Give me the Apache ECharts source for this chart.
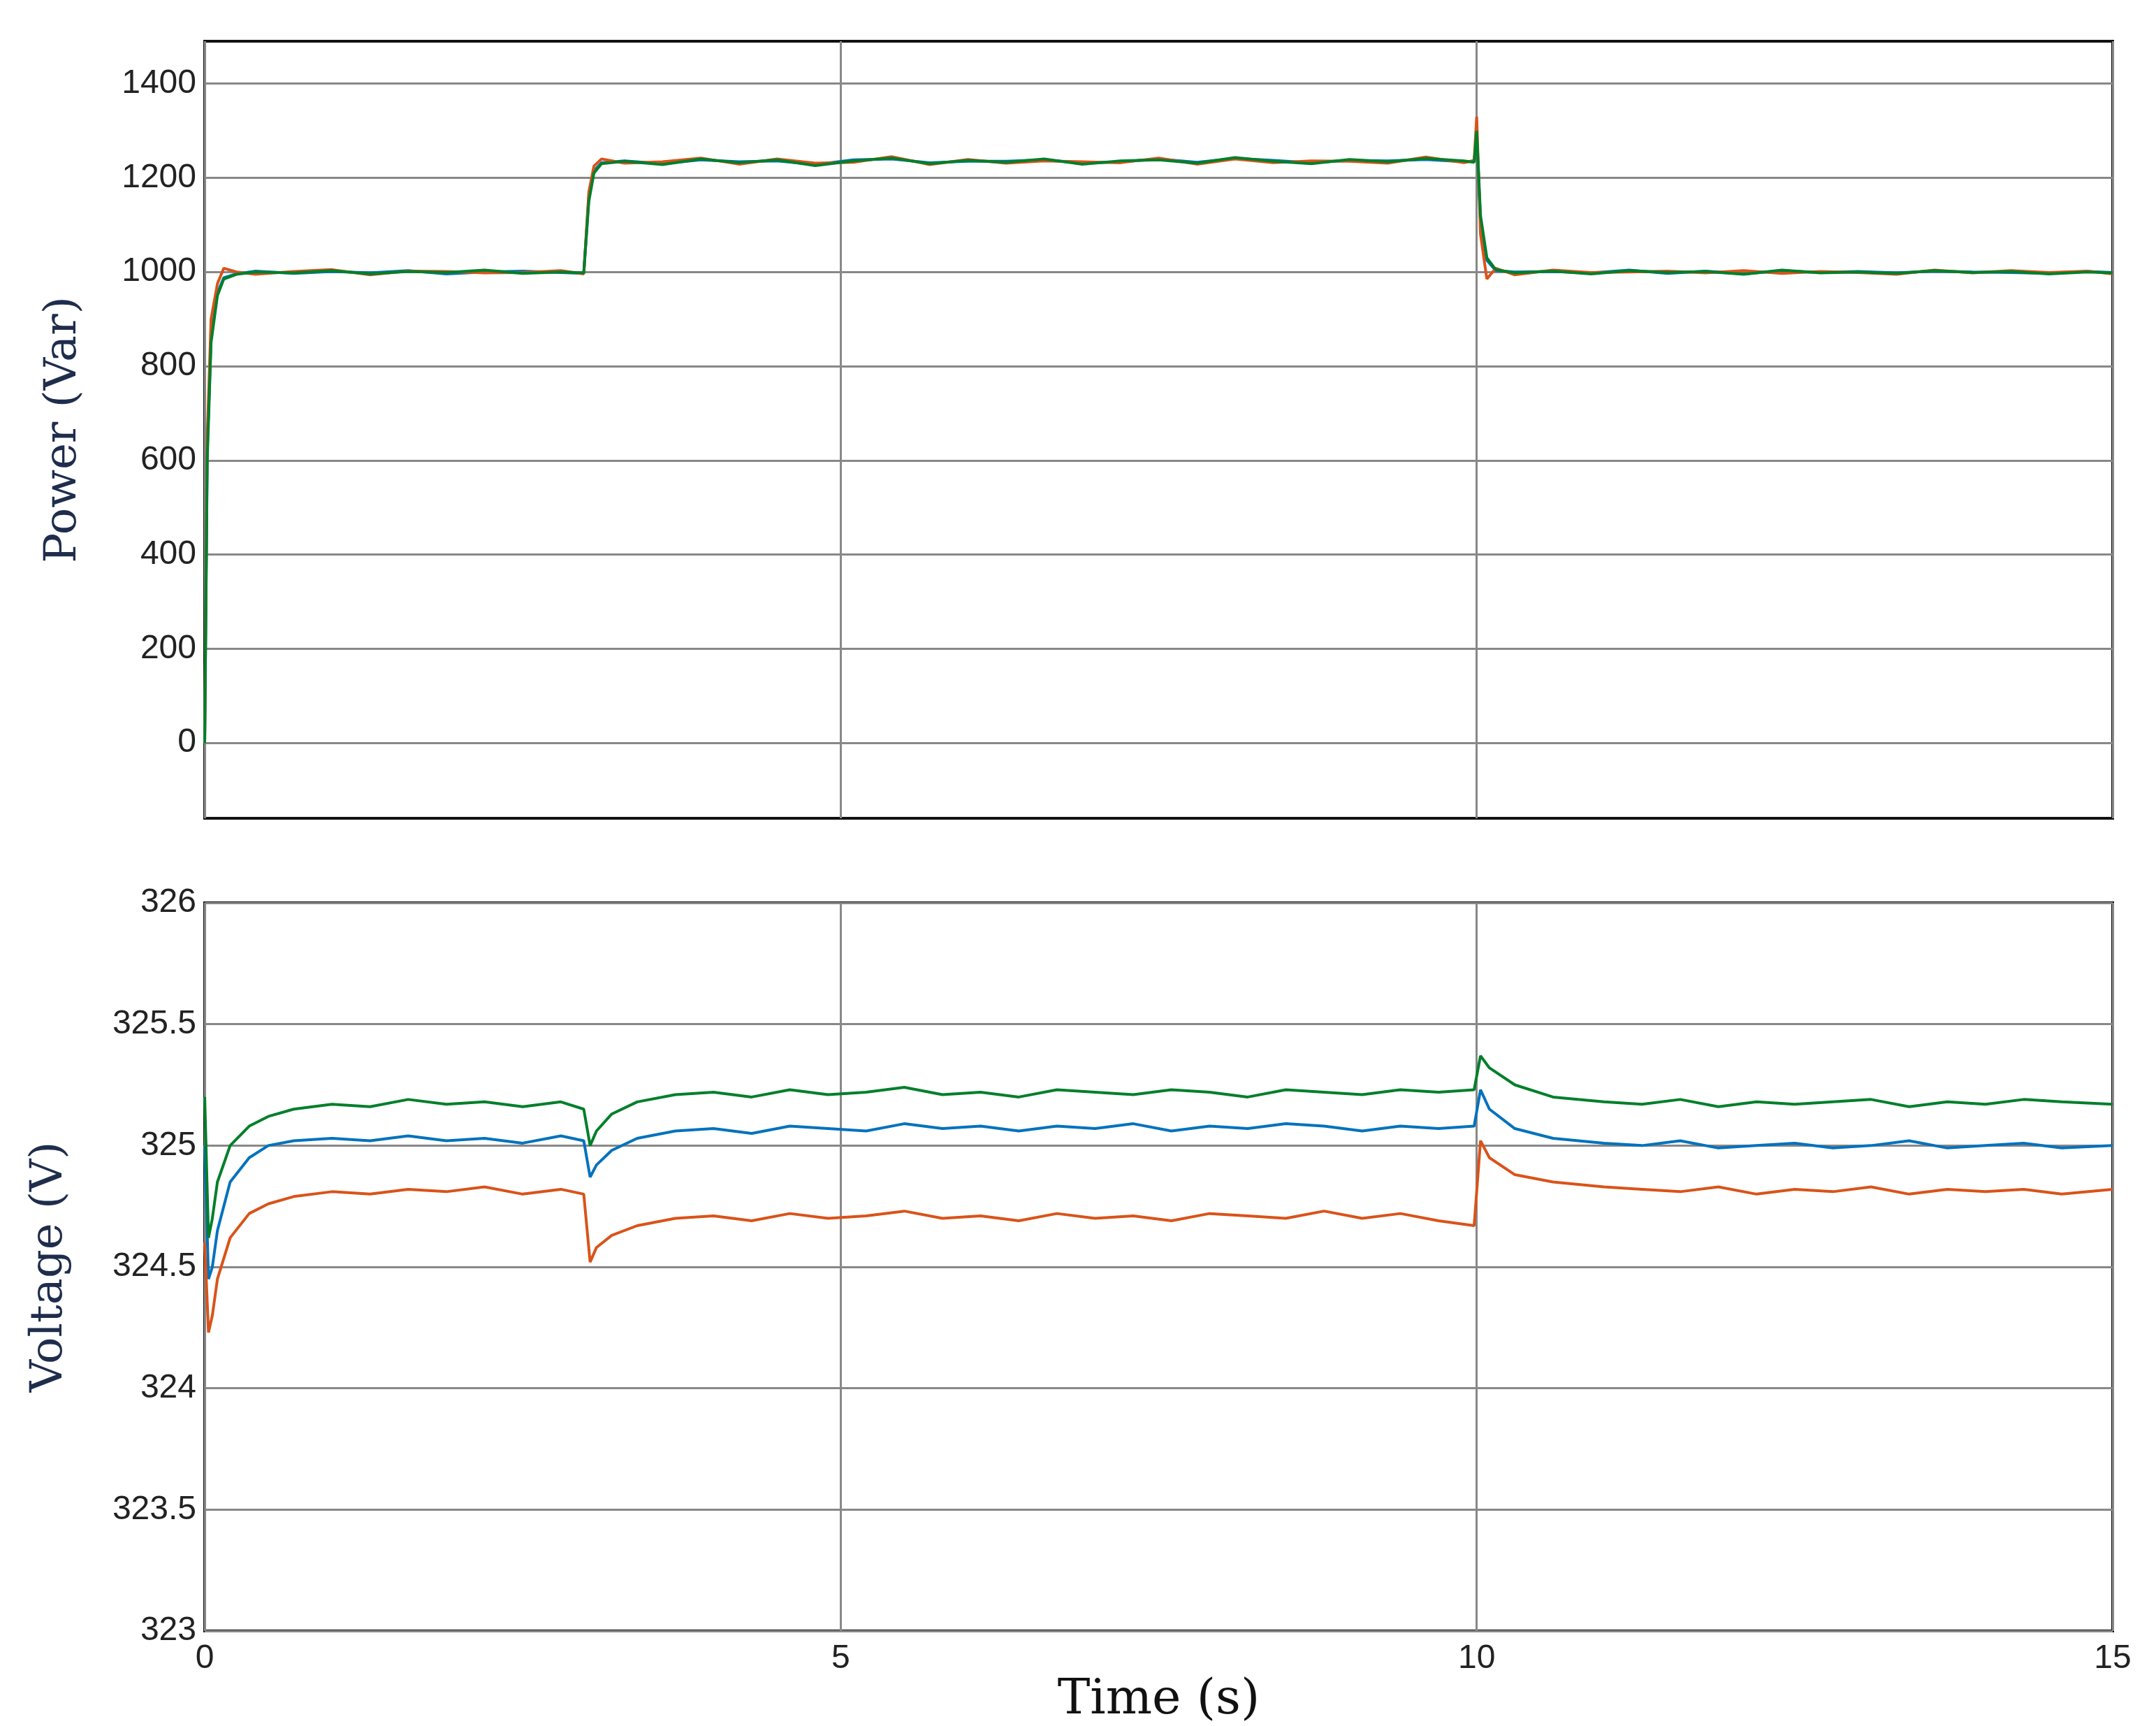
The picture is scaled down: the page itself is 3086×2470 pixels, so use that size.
<!DOCTYPE html>
<html><head><meta charset="utf-8">
<script src="https://cdn.jsdelivr.net/npm/echarts@6/dist/echarts.min.js"></script>
<style>html,body{margin:0;padding:0;background:#fff}#c{width:3086px;height:2470px}</style>
</head><body><div id="c"></div>
<script>
const topT=[0,0.02,0.05,0.1,0.15,0.25,0.4,0.7,1.0,1.3,1.6,1.9,2.2,2.5,2.8,2.98,
3.02,3.06,3.12,3.3,3.6,3.9,4.2,4.5,4.8,5.1,5.4,5.7,6.0,6.3,6.6,6.9,7.2,7.5,7.8,8.1,8.4,8.7,9.0,9.3,9.6,9.9,9.98,
10.0,10.03,10.08,10.15,10.3,10.6,10.9,11.2,11.5,11.8,12.1,12.4,12.7,13.0,13.3,13.6,13.9,14.2,14.5,14.8,15.0];
const powerBlue=[0,620,860,955,988,996,1002,997,1001,998,1003,996,1000,1002,999,997,
1160,1215,1232,1236,1230,1238,1234,1236,1228,1238,1240,1232,1235,1235,1238,1231,1234,1240,1233,1241,1237,1232,1237,1236,1239,1234,1235,
1290,1110,1025,1003,1000,1001,998,1004,997,1002,996,1003,999,1001,998,1002,1000,999,997,1001,999];
const powerOrange=[0,650,900,975,1008,1000,995,1001,1005,994,1002,1001,998,999,1003,996,
1170,1225,1240,1231,1234,1242,1229,1240,1231,1233,1245,1228,1239,1231,1236,1234,1232,1242,1229,1240,1232,1236,1235,1231,1244,1232,1237,
1330,1080,985,1008,994,1004,999,1000,1002,998,1003,997,1001,999,995,1004,998,1003,999,1002,996];
const powerGreen=[0,600,850,950,985,995,1000,998,1003,996,1001,999,1004,997,1000,998,
1150,1210,1230,1235,1228,1240,1232,1238,1226,1236,1242,1230,1237,1233,1240,1229,1236,1238,1231,1243,1235,1230,1239,1234,1241,1236,1233,
1300,1120,1030,1005,998,1002,996,1003,999,1001,995,1004,998,1000,997,1003,999,1001,996,1000,998];

const botT=[0,0.03,0.06,0.1,0.2,0.35,0.5,0.7,1.0,1.3,1.6,1.9,2.2,2.5,2.8,2.98,
3.03,3.08,3.2,3.4,3.7,4.0,4.3,4.6,4.9,5.2,5.5,5.8,6.1,6.4,6.7,7.0,7.3,7.6,7.9,8.2,8.5,8.8,9.1,9.4,9.7,9.98,
10.03,10.1,10.3,10.6,11.0,11.3,11.6,11.9,12.2,12.5,12.8,13.1,13.4,13.7,14.0,14.3,14.6,15.0];
const voltGreen=[325.2,324.62,324.7,324.85,325.0,325.08,325.12,325.15,325.17,325.16,325.19,325.17,325.18,325.16,325.18,325.15,
325.0,325.06,325.13,325.18,325.21,325.22,325.2,325.23,325.21,325.22,325.24,325.21,325.22,325.2,325.23,325.22,325.21,325.23,325.22,325.2,325.23,325.22,325.21,325.23,325.22,325.23,
325.37,325.32,325.25,325.2,325.18,325.17,325.19,325.16,325.18,325.17,325.18,325.19,325.16,325.18,325.17,325.19,325.18,325.17];
const voltBlue=[325.0,324.45,324.5,324.65,324.85,324.95,325.0,325.02,325.03,325.02,325.04,325.02,325.03,325.01,325.04,325.02,
324.87,324.92,324.98,325.03,325.06,325.07,325.05,325.08,325.07,325.06,325.09,325.07,325.08,325.06,325.08,325.07,325.09,325.06,325.08,325.07,325.09,325.08,325.06,325.08,325.07,325.08,
325.23,325.15,325.07,325.03,325.01,325.0,325.02,324.99,325.0,325.01,324.99,325.0,325.02,324.99,325.0,325.01,324.99,325.0];
const voltOrange=[324.6,324.23,324.3,324.45,324.62,324.72,324.76,324.79,324.81,324.8,324.82,324.81,324.83,324.8,324.82,324.8,
324.52,324.58,324.63,324.67,324.7,324.71,324.69,324.72,324.7,324.71,324.73,324.7,324.71,324.69,324.72,324.7,324.71,324.69,324.72,324.71,324.7,324.73,324.7,324.72,324.69,324.67,
325.02,324.95,324.88,324.85,324.83,324.82,324.81,324.83,324.8,324.82,324.81,324.83,324.8,324.82,324.81,324.82,324.8,324.82];
const powerTicks=[0,200,400,600,800,1000,1200,1400];
const xTicks=[0,5,10,15];

const C={blue:'#0072BD',orange:'#D95319',green:'#007F2A'};
const zip=(t,v)=>t.map((x,i)=>[x,v[i]]);
const lab=()=>({fontFamily:'Liberation Sans',fontSize:48,color:'#222',formatter:v=>String(v)});
const nameSt={fontFamily:'DejaVu Serif',fontSize:64,color:'#1f2d4d'};
const split={show:true,lineStyle:{color:'#888',width:3}};
const chart=echarts.init(document.getElementById('c'));
chart.setOption({
 animation:false,backgroundColor:'#fff',
 grid:[{left:293,right:62,top:59,height:1112,show:true,borderColor:'#111',borderWidth:4},
       {left:293,right:62,top:1292,height:1056,show:true,borderColor:'#111',borderWidth:4}],
 xAxis:[{gridIndex:0,type:'value',min:0,max:15,interval:5,axisLabel:{show:false},axisTick:{show:false},axisLine:{show:false},splitLine:split},
        {gridIndex:1,type:'value',min:0,max:15,interval:5,axisLabel:Object.assign(lab(),{margin:16}),axisTick:{show:false},axisLine:{show:false},splitLine:split,
         name:'Time (s)',nameLocation:'middle',nameGap:4,nameTextStyle:Object.assign({},nameSt,{fontSize:70,color:'#111'})}],
 yAxis:[{gridIndex:0,type:'value',min:-160,max:1490,
         axisLabel:Object.assign(lab(),{customValues:powerTicks,margin:12}),axisTick:{show:false,customValues:powerTicks},axisLine:{show:false},splitLine:split,
         name:'Power (Var)',nameLocation:'middle',nameGap:170,nameTextStyle:nameSt},
        {gridIndex:1,type:'value',min:323,max:326,interval:0.5,axisLabel:Object.assign(lab(),{margin:12}),axisTick:{show:false},axisLine:{show:false},splitLine:split,
         name:'Voltage (V)',nameLocation:'middle',nameGap:190,nameTextStyle:nameSt}],
 series:[
  {type:'line',xAxisIndex:0,yAxisIndex:0,data:zip(topT,powerBlue),showSymbol:false,lineStyle:{color:C.blue,width:4}},
  {type:'line',xAxisIndex:0,yAxisIndex:0,data:zip(topT,powerOrange),showSymbol:false,lineStyle:{color:C.orange,width:4}},
  {type:'line',xAxisIndex:0,yAxisIndex:0,data:zip(topT,powerGreen),showSymbol:false,lineStyle:{color:C.green,width:4}},
  {type:'line',xAxisIndex:1,yAxisIndex:1,data:zip(botT,voltBlue),showSymbol:false,lineStyle:{color:C.blue,width:4}},
  {type:'line',xAxisIndex:1,yAxisIndex:1,data:zip(botT,voltOrange),showSymbol:false,lineStyle:{color:C.orange,width:4}},
  {type:'line',xAxisIndex:1,yAxisIndex:1,data:zip(botT,voltGreen),showSymbol:false,lineStyle:{color:C.green,width:4}}
 ]
});
</script></body></html>
